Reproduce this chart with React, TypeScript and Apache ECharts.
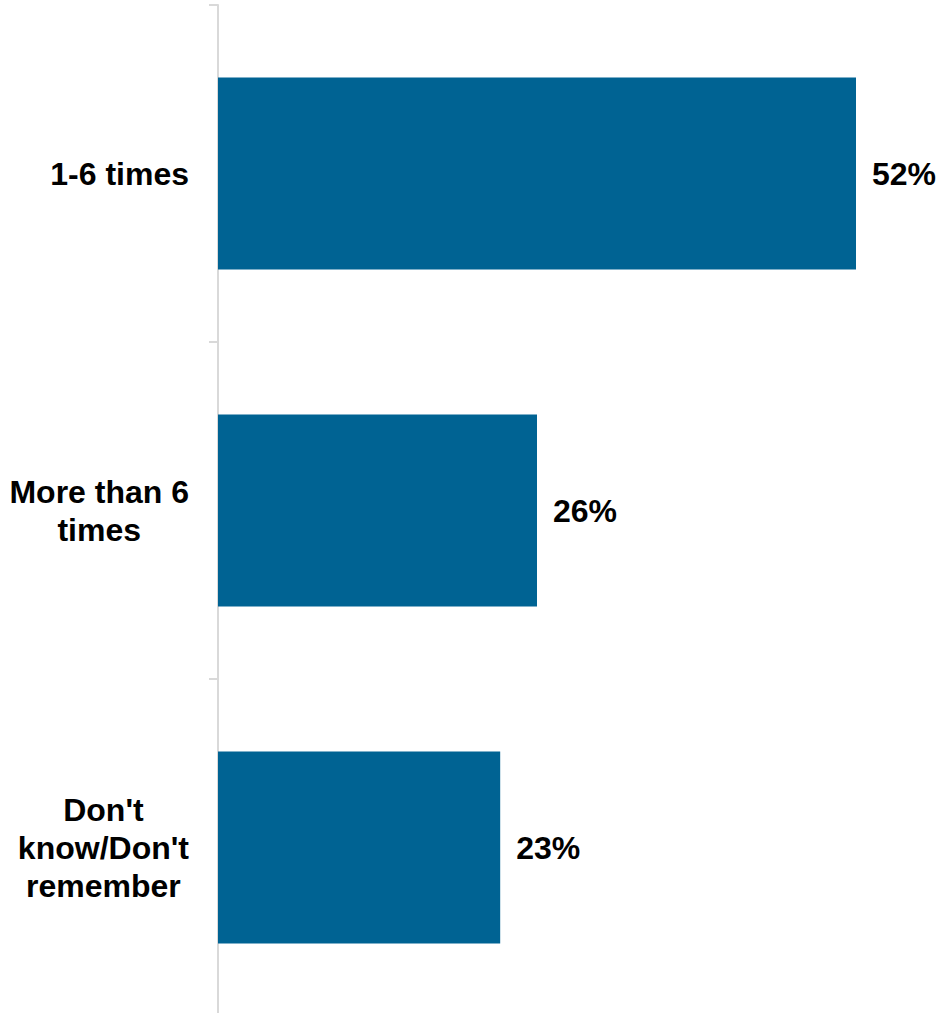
import React, { useEffect, useRef } from "react";
import * as echarts from "echarts";

const categories = ["1-6 times", "More than 6\ntimes", "Don't\nknow/Don't\nremember"];
const values = [52, 26, 23];

export default function App() {
  const ref = useRef<HTMLDivElement>(null);
  useEffect(() => {
    const chart = echarts.init(ref.current!, null, { renderer: "svg" });
    chart.setOption({
      animation: false,
      grid: { left: 218, right: 85, top: 5, bottom: 0, containLabel: false },
      xAxis: {
        type: "value",
        min: 0,
        max: 52,
        show: false,
      },
      yAxis: {
        type: "category",
        data: categories,
        inverse: true,
        axisLine: { show: true, lineStyle: { color: "#d9d9d9", width: 2 } },
        axisTick: { show: true, length: 9, lineStyle: { color: "#d9d9d9", width: 2 } },
        axisLabel: {
          margin: 29,
          formatter: (v: string) => `{a|${v}}`,
          rich: {
            a: {
              fontFamily: "Liberation Sans, Arial, sans-serif",
              fontWeight: "bold",
              fontSize: 32,
              lineHeight: 38,
              color: "#000",
              align: "center",
            },
          },
        },
      },
      series: [
        {
          type: "bar",
          data: values,
          barWidth: 192,
          itemStyle: { color: "#006393" },
          label: {
            show: true,
            position: "right",
            distance: 16,
            formatter: "{c}%",
            fontFamily: "Liberation Sans, Arial, sans-serif",
            fontWeight: "bold",
            fontSize: 32,
            color: "#000",
          },
        },
      ],
    });
    return () => chart.dispose();
  }, []);
  return (
    <div
      ref={ref}
      style={{ position: "fixed", left: 0, top: 0, width: 941, height: 1016, background: "#fff" }}
    />
  );
}
